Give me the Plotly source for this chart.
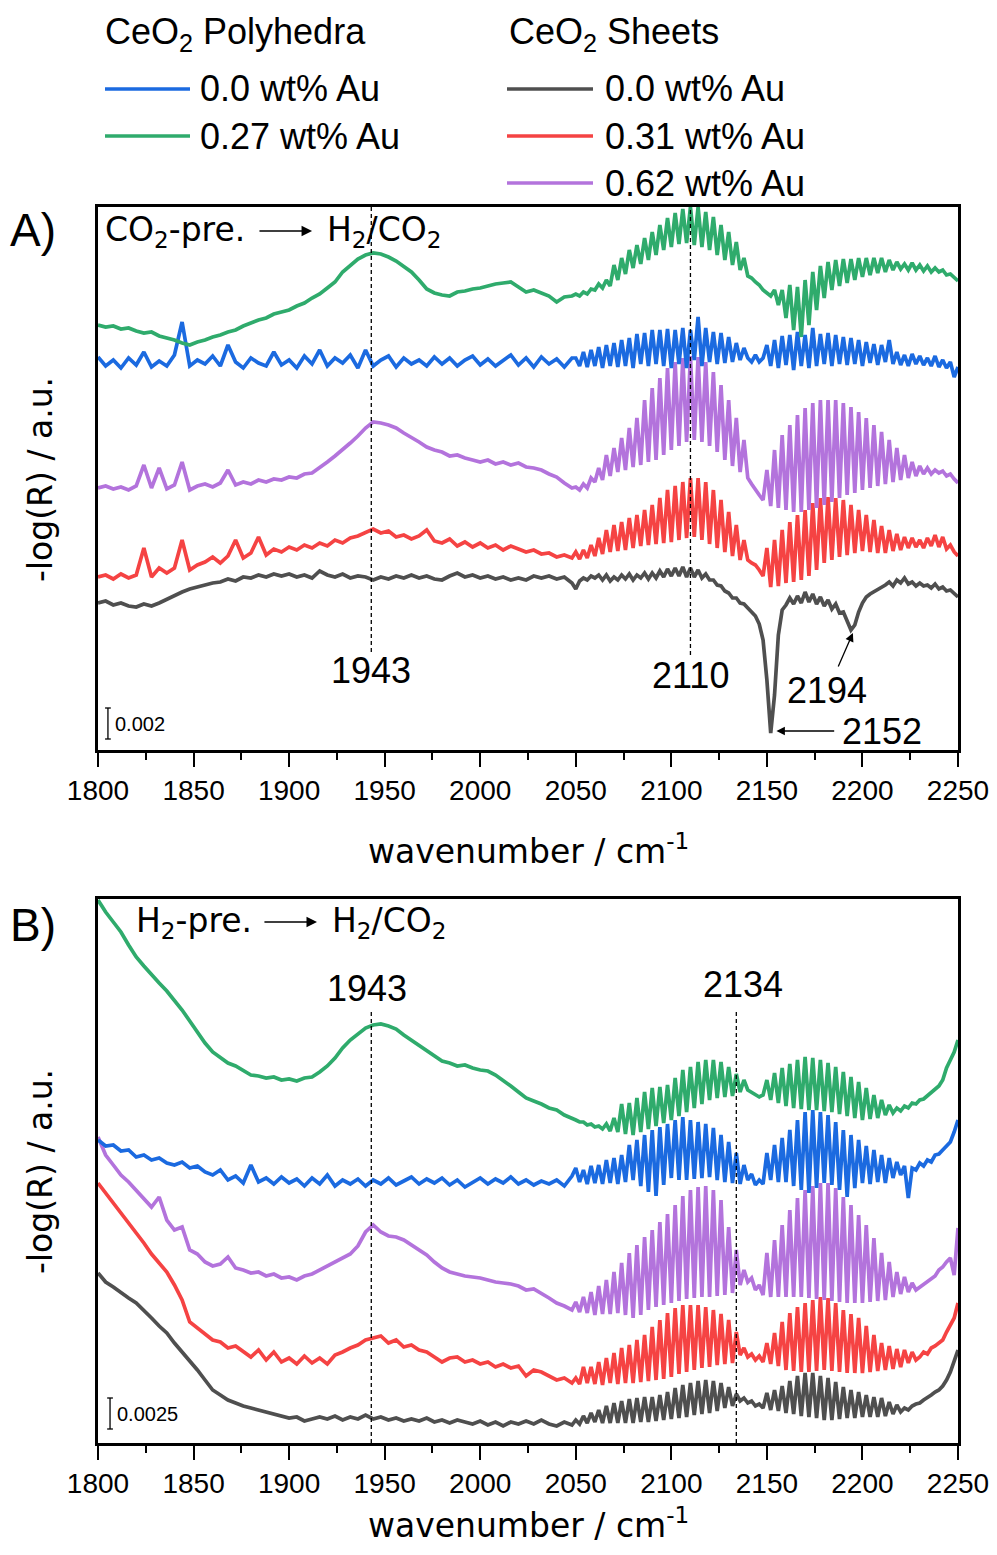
import plotly.graph_objects as go

# ---------------- data ----------------
# wavenumber grid (cm-1)
WN = list(range(1800, 2050, 4)) + list(range(2050, 2252, 2))

# Panel A: CO2-pre. -> H2/CO2  (relative -log(R), scale bar = 31 units = 0.002)
A_GREEN_POLY027 = [
    425, 423, 424, 421, 422, 419, 417, 418,
    414, 412, 410, 407, 405, 408, 410, 413,
    415, 418, 420, 424, 427, 430, 432, 436,
    438, 440, 444, 447, 452, 456, 462, 468,
    478, 485, 491, 495, 497, 496, 493, 489,
    484, 478, 470, 461, 457, 455, 454, 458,
    459, 461, 462, 464, 466, 467, 468, 463,
    458, 460, 457, 454, 448, 453, 454,
    456, 454, 458, 456, 461, 460, 466, 462, 470, 464,
    485, 470, 492, 476, 500, 482, 505, 486, 512, 490,
    518, 495, 525, 500, 532, 503, 537, 506, 541, 507,
    543, 505, 543, 503, 538, 500, 533, 495, 525, 490,
    518, 485, 508, 480, 492, 474, 472, 468, 465, 460,
    457, 454, 460, 445, 460, 432, 465, 420, 463, 413,
    470, 425, 478, 440, 484, 452, 488, 460, 490, 464,
    491, 467, 491, 470, 492, 473, 492, 475, 492, 477,
    492, 478, 490, 480, 488, 481, 486, 480, 487, 480,
    485, 479, 484, 478, 482, 478, 480, 475, 476, 472,
    469]
A_BLUE_POLY00 = [
    393, 384, 390, 382, 392, 385, 398, 383,
    389, 384, 395, 428, 384, 390, 386, 394,
    384, 405, 388, 382, 392, 387, 384, 398,
    385, 390, 382, 394, 386, 400, 384, 392,
    387, 395, 382, 400, 384, 390, 394, 383,
    392, 386, 390, 384, 393, 386, 392, 384,
    390, 394, 385, 391, 384, 390, 395, 385,
    392, 383, 393, 386, 391, 383, 392,
    392, 384, 398, 383, 400, 384, 403, 382, 405, 384,
    407, 383, 410, 384, 412, 382, 416, 386, 417, 384,
    420, 386, 420, 384, 421, 382, 420, 386, 422, 382,
    420, 390, 433, 384, 422, 388, 418, 386, 417, 387,
    413, 388, 407, 390, 402, 392, 388, 395, 388, 392,
    405, 384, 410, 382, 414, 385, 415, 380, 418, 384,
    415, 382, 422, 384, 416, 386, 417, 384, 415, 386,
    413, 385, 412, 386, 410, 384, 408, 387, 406, 385,
    405, 388, 410, 386, 398, 385, 395, 384, 396, 386,
    394, 385, 392, 384, 394, 383, 390, 382, 388, 373,
    383]
A_PURPLE_SHEET062 = [
    262, 264, 261, 263, 260, 264, 285, 262,
    282, 261, 265, 288, 260, 264, 266, 263,
    267, 280, 265, 268, 266, 270, 268, 271,
    270, 273, 272, 276, 277, 282, 288, 294,
    300, 307, 314, 322, 328, 327, 325, 322,
    317, 313, 308, 303, 300, 298, 294, 295,
    292, 290, 288, 290, 286, 288, 285, 287,
    283, 282, 280, 276, 273, 267, 262,
    263, 260, 266, 262, 272, 268, 282, 270, 295, 274,
    302, 278, 312, 280, 322, 283, 332, 285, 350, 288,
    362, 290, 372, 295, 382, 300, 388, 304, 392, 308,
    394, 310, 393, 308, 388, 304, 378, 298, 365, 290,
    350, 284, 332, 278, 310, 272, 266, 260, 255, 250,
    280, 244, 300, 242, 315, 240, 325, 238, 335, 238,
    342, 240, 347, 242, 350, 245, 350, 248, 350, 252,
    347, 255, 343, 257, 338, 260, 332, 262, 325, 264,
    318, 266, 310, 268, 302, 270, 295, 272, 288, 274,
    284, 276, 282, 276, 280, 277, 279, 274, 276, 271,
    267]
A_RED_SHEET031 = [
    173, 175, 171, 176, 172, 175, 202, 173,
    182, 177, 182, 210, 180, 185, 188, 193,
    187, 194, 210, 192, 197, 213, 195, 201,
    198, 203, 200, 205, 202, 207, 204, 210,
    207, 212, 214, 218, 221, 217, 219, 213,
    215, 211, 214, 220, 209, 207, 211, 204,
    208, 203, 207, 202, 205, 200, 204, 201,
    198, 200, 196, 197, 193, 195, 192,
    198, 191, 200, 192, 205, 194, 212, 196, 220, 198,
    225, 199, 228, 200, 232, 202, 235, 204, 240, 205,
    245, 206, 252, 207, 260, 208, 264, 210, 268, 212,
    272, 213, 272, 210, 268, 206, 260, 202, 250, 198,
    238, 194, 225, 190, 210, 190, 187, 185, 180, 174,
    202, 163, 210, 164, 220, 167, 228, 168, 235, 170,
    240, 174, 247, 180, 252, 187, 253, 190, 252, 193,
    250, 195, 245, 197, 240, 199, 235, 198, 230, 197,
    224, 197, 220, 199, 216, 200, 213, 202, 212, 203,
    210, 202, 212, 204, 215, 203, 213, 201, 205, 198,
    194]
A_GRAY_SHEET00 = [
    147, 149, 145, 147, 144, 143, 146, 144,
    147, 151, 155, 158, 161, 163, 165, 167,
    168, 171, 169, 173, 172, 175, 173, 176,
    174, 176, 173, 175, 172, 179, 175, 173,
    176, 172, 174, 173, 170, 173, 171, 174,
    172, 175, 172, 174, 171, 170, 174, 177,
    173, 175, 172, 174, 171, 173, 170, 172,
    170, 174, 172, 174, 171, 173, 167,
    161, 169, 172, 170, 174, 172, 175, 170, 175, 169,
    173, 170, 175, 171, 176, 170, 175, 172, 177, 171,
    177, 172, 179, 173, 181, 174, 182, 174, 183, 173,
    182, 173, 180, 172, 176, 170, 170, 165, 164, 159,
    157, 152, 152, 147, 146, 142, 138, 134, 126, 110,
    70, 17, 55, 115, 140, 145, 152, 146, 154, 147,
    158, 148, 156, 146, 153, 144, 150, 141, 146, 137,
    138, 128, 120, 125, 138, 147, 153, 156, 158, 161,
    162, 165, 168, 164, 170, 167, 172, 166, 168, 164,
    167, 164, 165, 162, 166, 161, 163, 159, 160, 156,
    153]

# Panel B: H2-pre. -> H2/CO2  (scale bar = 31 units = 0.0025)
B_GREEN_POLY027 = [
    543, 531, 521, 511, 498, 486, 477, 468,
    460, 452, 443, 433, 422, 411, 400, 391,
    385, 380, 377, 373, 368, 367, 365, 366,
    363, 364, 362, 365, 366, 371, 377, 385,
    395, 403, 409, 415, 418, 419, 417, 414,
    408, 403, 397, 393, 387, 382, 380, 377,
    378, 375, 373, 372, 368, 363, 357, 351,
    345, 342, 339, 335, 333, 328, 325,
    323, 321, 321, 318, 319, 316, 317, 314, 319, 312,
    325, 311, 339, 309, 340, 308, 345, 311, 351, 314,
    355, 317, 356, 320, 358, 323, 365, 327, 373, 331,
    376, 335, 381, 339, 383, 343, 383, 345, 381, 346,
    376, 347, 369, 351, 363, 353, 351, 349, 346, 348,
    363, 343, 370, 340, 375, 337, 379, 335, 383, 334,
    386, 333, 385, 333, 383, 332, 380, 331, 376, 329,
    371, 327, 366, 325, 361, 323, 355, 324, 348, 325,
    343, 328, 338, 330, 335, 332, 337, 335, 340, 339,
    343, 344, 347, 350, 353, 357, 363, 375, 383, 391,
    403]
B_BLUE_POLY00 = [
    303, 297, 298, 292, 293, 286, 288, 283,
    285, 280, 278, 281, 275, 277, 271, 268,
    273, 263, 267, 260, 278, 261, 265, 259,
    266, 260, 264, 257, 265, 259, 268, 257,
    263, 259, 264, 257, 263, 259, 265, 258,
    262, 266, 259, 264, 260, 265, 258, 263,
    256, 261, 265, 259, 264, 260, 266, 259,
    263, 258, 262, 259, 263, 257, 267,
    275, 261, 273, 259, 277, 260, 278, 259, 283, 260,
    285, 259, 288, 261, 298, 263, 303, 257, 308, 251,
    313, 247, 316, 258, 319, 265, 323, 263, 326, 263,
    323, 264, 321, 265, 319, 266, 315, 263, 308, 261,
    301, 260, 290, 259, 278, 263, 269, 258, 263, 259,
    290, 263, 298, 261, 305, 261, 313, 257, 323, 253,
    331, 250, 333, 255, 331, 260, 328, 258, 321, 253,
    313, 246, 308, 255, 303, 260, 297, 259, 293, 261,
    288, 260, 285, 265, 281, 268, 277, 245, 275, 273,
    280, 277, 283, 281, 288, 289, 293, 297, 301, 311,
    323]
B_PURPLE_SHEET062 = [
    306, 288, 278, 268, 261, 253, 245, 236,
    246, 223, 213, 216, 193, 189, 181, 177,
    179, 186, 175, 173, 170, 171, 167, 169,
    165, 166, 163, 167, 169, 173, 178, 181,
    185, 189, 197, 211, 218, 211, 207, 206,
    203, 198, 193, 188, 181, 175, 171, 169,
    167, 166, 165, 163, 161, 160, 159, 157,
    153, 154, 150, 145, 140, 137, 133,
    141, 131, 146, 130, 151, 128, 157, 129, 163, 129,
    171, 130, 180, 128, 190, 125, 198, 128, 206, 133,
    213, 136, 221, 138, 229, 140, 238, 142, 247, 144,
    253, 145, 256, 146, 257, 146, 253, 147, 243, 148,
    216, 150, 193, 158, 173, 161, 165, 153, 158, 148,
    190, 146, 203, 146, 218, 146, 233, 146, 245, 146,
    253, 145, 257, 144, 260, 143, 260, 142, 255, 141,
    246, 140, 238, 140, 228, 140, 218, 141, 205, 142,
    190, 143, 181, 146, 171, 149, 166, 151, 160, 153,
    156, 158, 161, 165, 167, 173, 176, 181, 185, 168,
    215]
B_RED_SHEET031 = [
    260, 250, 241, 230, 221, 210, 200, 189,
    180, 171, 158, 143, 121, 115, 108, 103,
    101, 95, 97, 91, 86, 93, 83, 91,
    81, 85, 79, 87, 80, 85, 79, 88,
    91, 95, 98, 103, 105, 107, 100, 103,
    96, 98, 93, 91, 86, 81, 85, 86,
    81, 83, 79, 81, 76, 79, 75, 77,
    67, 73, 71, 67, 63, 65, 60,
    65, 59, 76, 60, 76, 59, 81, 58, 85, 60,
    90, 59, 95, 60, 98, 60, 103, 61, 108, 62,
    116, 63, 123, 64, 130, 66, 135, 69, 138, 71,
    138, 73, 138, 75, 136, 76, 133, 78, 129, 79,
    123, 80, 111, 88, 95, 86, 89, 83, 87, 81,
    100, 79, 110, 77, 121, 73, 130, 72, 136, 71,
    140, 71, 143, 72, 146, 73, 145, 72, 140, 71,
    133, 70, 129, 70, 125, 70, 117, 71, 108, 72,
    100, 73, 97, 74, 94, 76, 93, 80, 91, 83,
    86, 91, 89, 95, 97, 100, 103, 111, 118, 125,
    140]
B_GRAY_SHEET00 = [
    170, 161, 156, 150, 145, 140, 133, 125,
    117, 110, 100, 91, 83, 73, 63, 53,
    48, 43, 40, 37, 35, 33, 31, 29,
    27, 25, 26, 22, 24, 26, 24, 27,
    23, 26, 24, 28, 24, 26, 23, 25,
    22, 24, 22, 25, 21, 23, 20, 23,
    21, 19, 22, 18, 21, 17, 21, 19,
    22, 19, 23, 19, 17, 21, 18,
    23, 19, 27, 20, 30, 21, 33, 20, 37, 20,
    40, 20, 42, 20, 44, 20, 45, 21, 46, 21,
    46, 22, 48, 23, 51, 24, 55, 25, 58, 26,
    60, 28, 62, 29, 63, 30, 62, 32, 60, 35,
    56, 37, 49, 42, 45, 40, 42, 37, 39, 35,
    50, 33, 53, 32, 57, 30, 62, 29, 67, 27,
    70, 26, 70, 25, 67, 23, 65, 23, 61, 24,
    56, 25, 53, 25, 51, 26, 48, 26, 46, 26,
    45, 27, 41, 29, 38, 31, 35, 33, 37, 39,
    40, 43, 45, 48, 51, 53, 57, 63, 71, 81,
    93]

LEGEND_LEFT_TITLE = "CeO<sub>2</sub> Polyhedra"
LEGEND_RIGHT_TITLE = "CeO<sub>2</sub> Sheets"
LEGEND_LEFT = ["0.0 wt% Au", "0.27 wt% Au"]
LEGEND_RIGHT = ["0.0 wt% Au", "0.31 wt% Au", "0.62 wt% Au"]
PEAKS_A = [1943, 2110]
PEAKS_B = [1943, 2134]
BANDS_A_EXTRA = [2194, 2152]
SCALE_A_LABEL, SCALE_B_LABEL = "0.002", "0.0025"
SCALE_UNITS = 31
TICKS = list(range(1800, 2251, 50))

# ---------------- style ----------------
BLUE, GREEN, PURPLE, RED, GRAY = "#1b6ae0", "#2fab6c", "#b373dc", "#f54343", "#4f4f4f"
OFF = 8                      # page body margin
W, H = 997 - 2 * OFF, 1555 - 2 * OFF
ARIAL = "Liberation Sans, Arial, sans-serif"
VERD = "DejaVu Sans, Verdana, sans-serif"


def px(x):
    return (x - OFF) / W


def py(y):
    return 1 - (y - OFF) / H


fig = go.Figure()


def add(y, color, panel):
    xa, ya = ("x", "y") if panel == "A" else ("x2", "y2")
    fig.add_trace(go.Scatter(x=WN, y=y, mode="lines", xaxis=xa, yaxis=ya,
                             line=dict(color=color, width=3.7), showlegend=False,
                             hoverinfo="skip"))


for y, c in [(A_GRAY_SHEET00, GRAY), (A_RED_SHEET031, RED), (A_PURPLE_SHEET062, PURPLE),
             (A_BLUE_POLY00, BLUE), (A_GREEN_POLY027, GREEN)]:
    add(y, c, "A")
for y, c in [(B_GRAY_SHEET00, GRAY), (B_RED_SHEET031, RED), (B_PURPLE_SHEET062, PURPLE),
             (B_BLUE_POLY00, BLUE), (B_GREEN_POLY027, GREEN)]:
    add(y, c, "B")

xdom = [px(98), px(958)]
xax = dict(range=[1800, 2250], showline=True, linewidth=2.5, linecolor="black", mirror=True,
           ticks="outside", ticklen=14, tickwidth=2, tickcolor="black", tickvals=TICKS,
           minor=dict(ticks="outside", ticklen=7, tickwidth=2, tickcolor="black", dtick=25, tick0=1800),
           tickfont=dict(family=ARIAL, size=28, color="black"), showgrid=False, zeroline=False,
           automargin=False, ticklabeloverflow="allow")
yax = dict(showline=True, linewidth=2.5, linecolor="black", mirror=True, ticks="",
           showticklabels=False, showgrid=False, zeroline=False, automargin=False)

fig.update_layout(
    width=W, height=H, margin=dict(l=0, r=0, t=0, b=0, autoexpand=False),
    plot_bgcolor="white", paper_bgcolor="white", showlegend=False,
    xaxis=dict(xax, domain=xdom, anchor="y"),
    yaxis=dict(yax, domain=[py(750), py(207)], anchor="x", range=[0, 543]),
    xaxis2=dict(xax, domain=xdom, anchor="y2"),
    yaxis2=dict(yax, domain=[py(1443), py(899)], anchor="x2", range=[0, 544]),
)

shapes = []
ann = []

# dashed peak markers
dash = dict(color="black", width=1.3, dash="4px,3px")
shapes.append(dict(type="line", xref="x", yref="y", x0=PEAKS_A[0], x1=PEAKS_A[0], y0=98, y1=543, line=dash))
shapes.append(dict(type="line", xref="x", yref="y", x0=PEAKS_A[1], x1=PEAKS_A[1], y0=95, y1=543, line=dash))
shapes.append(dict(type="line", xref="x2", yref="y2", x0=PEAKS_B[0], x1=PEAKS_B[0], y0=0, y1=433, line=dash))
shapes.append(dict(type="line", xref="x2", yref="y2", x0=PEAKS_B[1], x1=PEAKS_B[1], y0=0, y1=432, line=dash))

# scale bars
for xr, yr, xs, y0, lab in [("x", "y", 1805.2, 11, SCALE_A_LABEL), ("x2", "y2", 1806.3, 14, SCALE_B_LABEL)]:
    sb = dict(color="black", width=1.3)
    shapes.append(dict(type="line", xref=xr, yref=yr, x0=xs, x1=xs, y0=y0, y1=y0 + SCALE_UNITS, line=sb))
    shapes.append(dict(type="line", xref=xr, yref=yr, x0=xs - 1.5, x1=xs + 1.5, y0=y0, y1=y0, line=sb))
    shapes.append(dict(type="line", xref=xr, yref=yr, x0=xs - 1.5, x1=xs + 1.5, y0=y0 + SCALE_UNITS,
                       y1=y0 + SCALE_UNITS, line=sb))
    ann.append(dict(xref=xr, yref=yr, x=xs + 2.5, y=y0 + SCALE_UNITS / 2, text=lab, showarrow=False,
                    xanchor="left", yanchor="middle", font=dict(family=ARIAL, size=20, color="black")))

# peak labels
lab_font = dict(family=ARIAL, size=36, color="black")
ann += [
    dict(xref="x", yref="y", x=PEAKS_A[0], y=80, text=str(PEAKS_A[0]), showarrow=False, font=lab_font),
    dict(xref="x", yref="y", x=PEAKS_A[1], y=75, text=str(PEAKS_A[1]), showarrow=False, font=lab_font),
    dict(xref="x", yref="y", x=2181.5, y=60, text=str(BANDS_A_EXTRA[0]), showarrow=False, font=lab_font),
    dict(xref="x", yref="y", x=2210.3, y=19, text=str(BANDS_A_EXTRA[1]), showarrow=False, font=lab_font),
    dict(xref="x", yref="y", x=BANDS_A_EXTRA[0] + 1, y=117, ax=2187, ay=82, axref="x", ayref="y", text="",
         showarrow=True, arrowhead=2, arrowsize=1.3, arrowwidth=1.3, arrowcolor="black"),
    dict(xref="x", yref="y", x=BANDS_A_EXTRA[1] + 3, y=19, ax=2186, ay=19, axref="x", ayref="y", text="",
         showarrow=True, arrowhead=2, arrowsize=1.3, arrowwidth=1.3, arrowcolor="black"),
    dict(xref="x2", yref="y2", x=1941, y=455, text=str(PEAKS_B[0]), showarrow=False, font=lab_font),
    dict(xref="x2", yref="y2", x=2137.5, y=459, text=str(PEAKS_B[1]), showarrow=False, font=lab_font),
]

# condition labels
cond_font = dict(family=VERD, size=33, color="black")
for xr, yr, t1, x1, xa0, xa1, x2, yy in [
        ("x", "y", "CO<sub>2</sub>-pre.", 1802.6, 1883.7, 1912, 1918.8, 519),
        ("x2", "y2", "H<sub>2</sub>-pre.", 1818.8, 1886.3, 1914.6, 1921.4, 521)]:
    ann.append(dict(xref=xr, yref=yr, x=x1, y=yy, text=t1, showarrow=False, xanchor="left",
                    yanchor="middle", font=cond_font))
    ann.append(dict(xref=xr, yref=yr, x=xa1, y=yy, ax=xa0, ay=yy, axref=xr, ayref=yr, text="",
                    showarrow=True, arrowhead=2, arrowsize=1.4, arrowwidth=1.5, arrowcolor="black"))
    ann.append(dict(xref=xr, yref=yr, x=x2, y=yy, text="H<sub>2</sub>/CO<sub>2</sub>", showarrow=False,
                    xanchor="left", yanchor="middle", font=cond_font))

# panel letters
for t, yy in [("A)", 230), ("B)", 925)]:
    ann.append(dict(xref="paper", yref="paper", x=px(8), y=py(yy), text=t, showarrow=False,
                    xanchor="left", yanchor="middle", font=dict(family=ARIAL, size=46, color="black")))

# axis titles
title_font = dict(family=VERD, size=33, color="black")
ann.append(dict(xref="paper", yref="paper", x=px(528), y=py(849), text="wavenumber / cm<sup>-1</sup>",
                showarrow=False, xanchor="center", yanchor="middle", font=title_font))
ann.append(dict(xref="paper", yref="paper", x=px(528), y=0, text="wavenumber / cm<sup>-1</sup>",
                showarrow=False, xanchor="center", yanchor="bottom", font=title_font))
for yy in [480, 1172]:
    ann.append(dict(xref="paper", yref="paper", x=px(40), y=py(yy), text="-log(R) / a.u.", textangle=-90,
                    showarrow=False, xanchor="center", yanchor="middle", font=title_font))

# legend (drawn manually as two titled columns)
leg_font = dict(family=ARIAL, size=36, color="black")
ann.append(dict(xref="paper", yref="paper", x=px(103), y=py(34), text=LEGEND_LEFT_TITLE, showarrow=False,
                xanchor="left", yanchor="middle", font=leg_font))
ann.append(dict(xref="paper", yref="paper", x=px(507), y=py(34), text=LEGEND_RIGHT_TITLE, showarrow=False,
                xanchor="left", yanchor="middle", font=leg_font))
for i, (lab, col) in enumerate(zip(LEGEND_LEFT, [BLUE, GREEN])):
    yy = 89 + 47 * i
    shapes.append(dict(type="line", xref="paper", yref="paper", x0=px(105), x1=px(190), y0=py(yy), y1=py(yy),
                       line=dict(color=col, width=3.5)))
    ann.append(dict(xref="paper", yref="paper", x=px(198), y=py(yy), text=lab, showarrow=False,
                    xanchor="left", yanchor="middle", font=leg_font))
for i, (lab, col) in enumerate(zip(LEGEND_RIGHT, [GRAY, RED, PURPLE])):
    yy = 89 + 47 * i
    shapes.append(dict(type="line", xref="paper", yref="paper", x0=px(507), x1=px(593), y0=py(yy), y1=py(yy),
                       line=dict(color=col, width=3.5)))
    ann.append(dict(xref="paper", yref="paper", x=px(603), y=py(yy), text=lab, showarrow=False,
                    xanchor="left", yanchor="middle", font=leg_font))

fig.update_layout(shapes=shapes, annotations=ann)
fig.write_html("out.html")
